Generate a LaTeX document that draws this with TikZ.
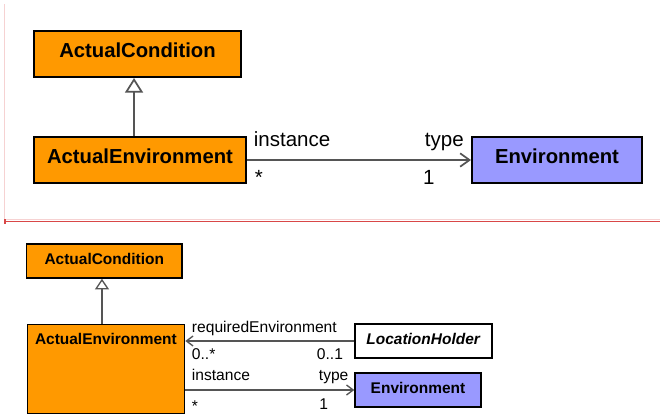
\documentclass[tikz,border=0pt]{standalone}
\usepackage{fontspec}
\setmainfont{Liberation Sans}
\usetikzlibrary{arrows.meta,positioning}
\definecolor{classorange}{HTML}{FF9900}
\definecolor{classblue}{HTML}{9999FF}
\definecolor{linegray}{HTML}{555555}
\definecolor{framepink}{HTML}{F6D2D2}
\definecolor{framered}{HTML}{D94848}
\begin{document}
\begin{tikzpicture}[x=0.75pt,y=-0.75pt,
    bigcls/.style={draw=black, line width=1.5pt, minimum height=34.5pt, inner sep=0pt, text depth=6pt, font=\fontsize{15.2pt}{17pt}\selectfont\bfseries},
    smallcls/.style={draw=black, line width=1.1pt, minimum height=25.5pt, inner sep=0pt, text depth=3.5pt, font=\fontsize{11.6pt}{13pt}\selectfont\bfseries},
    biglab/.style={anchor=base west, inner sep=0pt, font=\fontsize{15.4pt}{17pt}\selectfont},
    smalllab/.style={anchor=base west, inner sep=0pt, font=\fontsize{11.7pt}{13pt}\selectfont},
    biggen/.style={draw=linegray, line width=1.3pt, -{Triangle[open, fill=white, length=11pt, width=13.5pt]}},
    smallgen/.style={draw=linegray, line width=1pt, -{Triangle[open, fill=white, length=8pt, width=10.5pt]}},
    bigassoc/.style={draw=linegray, line width=1.3pt, -{Straight Barb[length=7pt, width=10pt]}},
    smallassoc/.style={draw=linegray, line width=1pt, -{Straight Barb[length=5pt, width=7.5pt]}}]
\useasboundingbox (0,0) rectangle (660,419);

% frame of the upper view
\draw[framepink, line width=0.75pt] (4.5,4) -- (4.5,220);
\draw[framepink, line width=1.2pt] (5,219.5) -- (660,219.5);
\draw[framered, line width=1.1pt] (5,221.3) -- (660,221.3);
\draw[framered, line width=1.1pt] (5,219) -- (5,223.5);

% upper view
\node[bigcls, fill=classorange, minimum width=155.25pt] (ac) at (137.5,54) {ActualCondition};
\node[bigcls, fill=classorange, minimum width=159pt] (ae) at (140,160) {ActualEnvironment};
\node[bigcls, fill=classblue, minimum width=127.5pt] (env) [right=168pt of ae] {Environment};

\draw[biggen] ([xshift=-2.6pt]ac.south |- ae.north) -- ([xshift=-2.6pt]ac.south);
\draw[bigassoc] (ae) -- (env)
    node[biglab, at start, xshift=4.5pt, yshift=10.5pt] {instance}
    node[biglab, at start, xshift=5.25pt, yshift=-18pt] {*}
    node[biglab, at end, xshift=-35.25pt, yshift=10.5pt] {type}
    node[biglab, at end, xshift=-36.5pt, yshift=-18pt] {1};

% lower view
\node[smallcls, fill=classorange, minimum width=116.6pt] (ac2) at (104.25,261) {ActualCondition};
\node[smallcls, fill=classorange, minimum width=118pt, minimum height=66.75pt, anchor=north west,
    label={[anchor=north, inner sep=0pt, yshift=-6.5pt, font=\fontsize{11.6pt}{13pt}\selectfont\bfseries]north:ActualEnvironment}] (ae2) at (26.5,324) {};
\node[smallcls, fill=white, minimum width=102.75pt] (lh) at (423.5,341) {\textit{LocationHolder}};
\node[smallcls, fill=classblue, minimum width=94.5pt] (env2) at (418,390) {Environment};

\draw[smallgen] ([xshift=-1.7pt]ac2.south |- ae2.north) -- ([xshift=-1.7pt]ac2.south);
\draw[smallassoc] (lh.west) -- (lh.west -| ae2.east)
    node[smalllab, at end, xshift=4.5pt, yshift=6.75pt] {requiredEnvironment}
    node[smalllab, at end, xshift=4.5pt, yshift=-13.5pt] {0..*}
    node[smalllab, at start, xshift=-28.5pt, yshift=-13.5pt] {0..1};
\draw[smallassoc] (env2.west -| ae2.east) -- (env2.west)
    node[smalllab, at start, xshift=4.5pt, yshift=7.5pt] {instance}
    node[smalllab, at start, xshift=4.5pt, yshift=-15.75pt] {*}
    node[smalllab, at end, xshift=-27pt, yshift=7.5pt] {type}
    node[smalllab, at end, xshift=-26.6pt, yshift=-14.25pt] {1};
\end{tikzpicture}
\end{document}
